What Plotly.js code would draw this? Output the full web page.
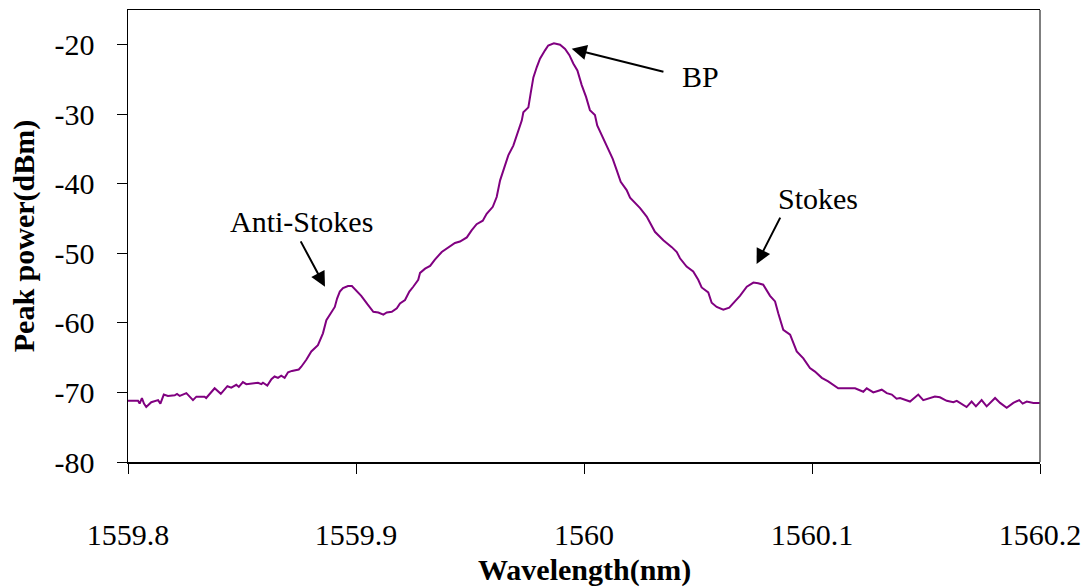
<!DOCTYPE html>
<html>
<head>
<meta charset="utf-8">
<script src="https://cdn.plot.ly/plotly-3.0.1.min.js"></script>
<style>
  html, body { margin: 0; padding: 0; background: #ffffff; }
  #chart { width: 1088px; height: 587px; }
</style>
</head>
<body>
<div id="chart"></div>
<script>
// Wavelength (nm)
const wavelength = [
  1559.8000, 1559.8022, 1559.8044, 1559.8051, 1559.8061, 1559.8070, 1559.8080, 1559.8102,
  1559.8132, 1559.8142, 1559.8157, 1559.8175, 1559.8205, 1559.8215, 1559.8227, 1559.8256,
  1559.8268, 1559.8285, 1559.8300, 1559.8336, 1559.8343, 1559.8358, 1559.8380, 1559.8407,
  1559.8436, 1559.8453, 1559.8475, 1559.8486, 1559.8504, 1559.8519, 1559.8548, 1559.8570,
  1559.8585, 1559.8592, 1559.8611, 1559.8629, 1559.8643, 1559.8658, 1559.8672, 1559.8687,
  1559.8702, 1559.8719, 1559.8749, 1559.8760, 1559.8782, 1559.8804, 1559.8833, 1559.8845,
  1559.8855, 1559.8870, 1559.8892, 1559.8907, 1559.8917, 1559.8929, 1559.8943, 1559.8965,
  1559.8982, 1559.9001, 1559.9023, 1559.9050, 1559.9076, 1559.9098, 1559.9120, 1559.9135,
  1559.9157, 1559.9179, 1559.9193, 1559.9215, 1559.9234, 1559.9251, 1559.9273, 1559.9281,
  1559.9303, 1559.9325, 1559.9346, 1559.9376, 1559.9405, 1559.9434, 1559.9456, 1559.9486,
  1559.9507, 1559.9529, 1559.9556, 1559.9573, 1559.9600, 1559.9617, 1559.9632, 1559.9646,
  1559.9668, 1559.9690, 1559.9707, 1559.9727, 1559.9734, 1559.9756, 1559.9766, 1559.9778,
  1559.9793, 1559.9807, 1559.9829, 1559.9843, 1559.9868, 1559.9895, 1559.9917, 1559.9936,
  1559.9953, 1559.9971, 1559.9990, 1560.0009, 1560.0026, 1560.0048, 1560.0058, 1560.0082,
  1560.0107, 1560.0126, 1560.0143, 1560.0161, 1560.0187, 1560.0202, 1560.0246, 1560.0275,
  1560.0311, 1560.0348, 1560.0385, 1560.0407, 1560.0421, 1560.0450, 1560.0479, 1560.0501,
  1560.0516, 1560.0531, 1560.0545, 1560.0560, 1560.0582, 1560.0611, 1560.0637, 1560.0662,
  1560.0684, 1560.0714, 1560.0743, 1560.0764, 1560.0786, 1560.0816, 1560.0838, 1560.0852,
  1560.0874, 1560.0904, 1560.0933, 1560.0962, 1560.0991, 1560.1013, 1560.1043, 1560.1071,
  1560.1115, 1560.1152, 1560.1189, 1560.1225, 1560.1240, 1560.1269, 1560.1306, 1560.1328,
  1560.1350, 1560.1371, 1560.1386, 1560.1430, 1560.1466, 1560.1488, 1560.1539, 1560.1561,
  1560.1591, 1560.1620, 1560.1635, 1560.1678, 1560.1700, 1560.1719, 1560.1744, 1560.1766,
  1560.1803, 1560.1825, 1560.1854, 1560.1883, 1560.1909, 1560.1924, 1560.1942, 1560.1971,
  1560.2000
];

// Peak power (dBm)
const peakPower = [
  -71.2, -71.2, -71.2, -71.6, -70.8, -71.6, -72.1, -71.4,
  -71.1, -71.6, -70.3, -70.5, -70.4, -70.2, -70.5, -70.1,
  -70.5, -71.1, -70.6, -70.6, -70.8, -70.2, -69.4, -70.2,
  -69.1, -69.3, -68.9, -69.2, -68.5, -68.8, -68.7, -68.6,
  -68.8, -68.6, -69.0, -68.1, -67.7, -67.9, -67.6, -67.9,
  -67.1, -66.9, -66.7, -66.3, -65.3, -64.1, -63.2, -62.4,
  -61.5, -59.6, -58.4, -57.7, -56.5, -55.5, -55.0, -54.7,
  -54.7, -55.3, -56.1, -57.3, -58.4, -58.5, -58.8, -58.5,
  -58.4, -57.9, -57.2, -56.7, -55.5, -54.8, -53.8, -52.8,
  -52.2, -51.8, -50.9, -49.8, -49.1, -48.5, -48.3, -47.7,
  -46.7, -45.8, -45.3, -44.3, -43.3, -41.9, -39.5, -38.0,
  -35.9, -34.5, -32.8, -30.9, -29.7, -29.0, -27.0, -24.7,
  -23.2, -22.0, -20.8, -20.1, -19.8, -20.0, -20.6, -21.5,
  -22.7, -23.7, -25.8, -27.5, -29.4, -30.1, -31.6, -33.3,
  -34.9, -36.4, -38.0, -39.7, -40.9, -42.0, -43.5, -44.7,
  -46.9, -48.1, -49.1, -49.8, -50.7, -51.9, -52.6, -53.8,
  -54.9, -55.2, -55.6, -57.1, -57.7, -58.1, -57.8, -56.9,
  -56.1, -54.8, -54.2, -54.3, -54.5, -56.1, -56.9, -58.6,
  -61.0, -61.7, -64.1, -65.1, -66.5, -67.0, -67.9, -68.4,
  -69.4, -69.4, -69.4, -69.9, -69.4, -70.0, -69.6, -70.1,
  -70.3, -70.9, -70.8, -71.3, -70.3, -71.1, -70.6, -70.7,
  -71.2, -71.4, -71.2, -72.1, -71.3, -72.0, -71.1, -72.0,
  -70.8, -71.5, -72.2, -71.5, -71.1, -71.6, -71.3, -71.5,
  -71.5
];

const xTicks = [1559.8, 1559.9, 1560.0, 1560.1, 1560.2];
const xTickLabels = ["1559.8", "1559.9", "1560", "1560.1", "1560.2"];
const yTicks = [-80, -70, -60, -50, -40, -30, -20];
const yTickLabels = ["-80", "-70", "-60", "-50", "-40", "-30", "-20"];
const xTitle = "Wavelength(nm)";
const yTitle = "Peak power(dBm)";

const labelTexts = ["BP", "Anti-Stokes", "Stokes"];
const labelX = [1560.0509, 1559.8759, 1560.1026];
const labelY = [-24.55, -45.36, -42.06];
const arrowTipX = [1559.9946, 1559.8864, 1560.0757];
const arrowTipY = [-20.57, -54.79, -51.53];
const arrowTailX = [1560.0355, 1559.8754, 1560.0864];
const arrowTailY = [-23.93, -48.06, -44.64];

const serif = '"Liberation Serif", "Times New Roman", Times, serif';

const annotations = [];
for (let i = 0; i < labelTexts.length; i++) {
  annotations.push({
    x: labelX[i], y: labelY[i], xref: 'x', yref: 'y',
    text: labelTexts[i], showarrow: false,
    font: { family: serif, size: 30, color: '#000000' },
    xanchor: 'center', yanchor: 'middle'
  });
  annotations.push({
    x: arrowTipX[i], y: arrowTipY[i], xref: 'x', yref: 'y',
    ax: arrowTailX[i], ay: arrowTailY[i], axref: 'x', ayref: 'y',
    text: '', showarrow: true,
    arrowhead: 2, arrowsize: 1.5, arrowwidth: 2, arrowcolor: '#000000'
  });
}
// x-axis title placed below tick labels
annotations.push({
  x: 0.5, y: -0.238, xref: 'paper', yref: 'paper',
  text: '<b>' + xTitle + '</b>', showarrow: false,
  font: { family: serif, size: 30, color: '#000000' },
  xanchor: 'center', yanchor: 'middle'
});

const trace = {
  x: wavelength,
  y: peakPower,
  type: 'scatter',
  mode: 'lines',
  line: { color: '#800080', width: 2 },
  hoverinfo: 'skip'
};

const layout = {
  width: 1088,
  height: 587,
  margin: { l: 128, r: 48, t: 10, b: 125 },
  paper_bgcolor: '#ffffff',
  plot_bgcolor: '#ffffff',
  showlegend: false,
  font: { family: serif, color: '#000000' },
  xaxis: {
    range: [1559.8, 1560.2],
    tickmode: 'array',
    tickvals: xTicks,
    ticktext: xTickLabels,
    ticks: 'outside',
    ticklen: 10,
    tickwidth: 1,
    tickcolor: '#000000',
    ticklabelstandoff: 35,
    tickfont: { family: serif, size: 30, color: '#000000' },
    showline: true,
    linecolor: '#000000',
    linewidth: 1.5,
    mirror: true,
    showgrid: false,
    zeroline: false
  },
  yaxis: {
    range: [-80, -15],
    tickmode: 'array',
    tickvals: yTicks,
    ticktext: yTickLabels,
    ticks: 'outside',
    ticklen: 10,
    tickwidth: 1,
    tickcolor: '#000000',
    ticklabelstandoff: 16,
    tickfont: { family: serif, size: 30, color: '#000000' },
    showline: true,
    linecolor: '#000000',
    linewidth: 1.5,
    mirror: false,
    showgrid: false,
    zeroline: false,
    title: { text: '<b>' + yTitle + '</b>', font: { family: serif, size: 30, color: '#000000' }, standoff: 11 }
  },
  shapes: [{
    type: 'line', xref: 'paper', yref: 'paper',
    x0: 1, x1: 1, y0: 0, y1: 1,
    line: { color: '#555555', width: 1.5 }
  }],
  annotations: annotations
};

Plotly.newPlot('chart', [trace], layout, { displayModeBar: false, staticPlot: true });
</script>
</body>
</html>
